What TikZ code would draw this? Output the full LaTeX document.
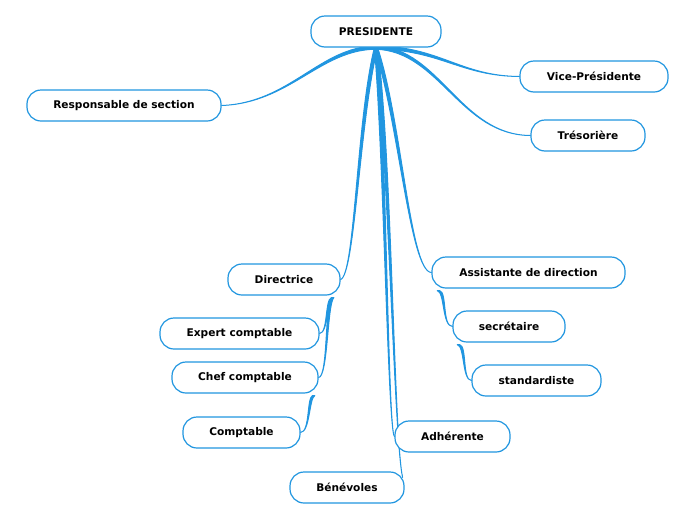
\documentclass[tikz,border=0pt]{standalone}
\usepackage{fontspec}
\setmainfont{DejaVu Sans}
\usetikzlibrary{calc,backgrounds}
\definecolor{mapblue}{RGB}{33,150,224}
\tikzset{
     topic/.style =
        { rectangle
        , rounded corners=14pt
        , draw=mapblue
        , line width=1.2pt
        , fill=white
        , minimum height=31pt
        , inner sep=0pt
        , font=\fontsize{10.6}{12}\selectfont\bfseries
        }
   , limb/.style =
        { fill=mapblue
        , draw=mapblue
        , line width=1pt
        , line join=round
        }
}
% tapered connector: start, control 1, control 2, end, half width at start
\newcommand{\twig}[5]{%
    \filldraw[limb] ($#1+#5$) .. controls ($#2+#5$) and #3 .. #4
        .. controls #3 and ($#2-#5$) .. ($#1-#5$) -- cycle;}

\begin{document}
\begin{tikzpicture}
            [ x=1pt
            , y=-1pt
            ]
            \useasboundingbox (0,0) rectangle (696,520);

            \node[topic, minimum width=130pt] (pres)   at (376,31.5)  {PRESIDENTE};
            \node[topic, minimum width=148pt] (vice)   at (594,76.5)  {Vice-Présidente};
            \node[topic, minimum width=114pt] (treso)  at (588,135.5) {Trésorière};
            \node[topic, minimum width=194pt] (resp)   at (124,105.5) {Responsable de section};
            \node[topic, minimum width=112pt] (dir)    at (284,279.5) {Directrice};
            \node[topic, minimum width=193pt] (assist) at (528.5,272.5) {Assistante de direction};
            \node[topic, minimum width=112pt] (secr)   at (509,326.5) {secrétaire};
            \node[topic, minimum width=129pt] (stand)  at (536.5,380.5) {standardiste};
            \node[topic, minimum width=159pt] (expert) at (239.5,333.5) {Expert comptable};
            \node[topic, minimum width=146pt] (chef)   at (245,377.5) {Chef comptable};
            \node[topic, minimum width=117pt] (compta) at (241.5,432.5) {Comptable};
            \node[topic, minimum width=115pt] (adher)  at (452.5,436.5) {Adhérente};
            \node[topic, minimum width=114pt] (bene)   at (347,487.5) {Bénévoles};

            \coordinate (dirtail)    at ($(dir.south east)+(-8,2)$);
            \coordinate (cheftail)   at ($(chef.south east)+(-5,2)$);
            \coordinate (assisttail) at ($(assist.south west)+(7,2)$);
            \coordinate (secrtail)   at ($(secr.south west)+(6,2)$);

            \begin{scope}[on background layer]
            % from the president
            \twig{(pres.south)}{(320,48)}{(290,103)}{(resp.east)}{(0,1.6)}
            \twig{(pres.south)}{(440,48)}{(460,76)}{(vice.west)}{(0,1.6)}
            \twig{(pres.south)}{(440,50)}{(460,135)}{(treso.west)}{(0,1.6)}
            \twig{(pres.south)}{(358,120)}{(355,275)}{(dir.east)}{(1.6,0)}
            \twig{(pres.south)}{(400,120)}{(410,272)}{(assist.west)}{(1.6,0)}
            \twig{(pres.south)}{(385,150)}{(388,430)}{(adher.west)}{(1.6,0)}
            \twig{(pres.south)}{(390,150)}{(394,440)}{($(bene.north east)+(-2,6)$)}{(1.6,0)}

            % second level
            \twig{(dirtail)}{(326,300)}{(328,333)}{(expert.east)}{(1.2,0)}
            \twig{(dirtail)}{(326,305)}{(328,377)}{(chef.east)}{(1.2,0)}
            \twig{(cheftail)}{(308,398)}{(310,432)}{(compta.east)}{(1.2,0)}
            \twig{(assisttail)}{(446,292)}{(442,326)}{(secr.west)}{(1.2,0)}
            \twig{(secrtail)}{(466,346)}{(462,380)}{(stand.west)}{(1.2,0)}
            \end{scope}
        \end{tikzpicture}
\end{document}
